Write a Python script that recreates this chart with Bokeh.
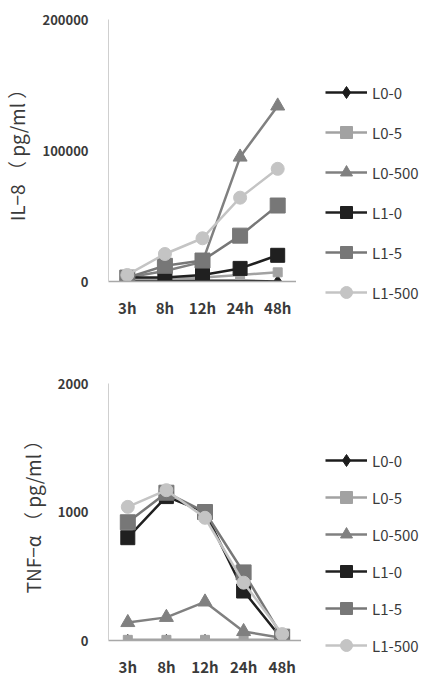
from bokeh.plotting import figure
from bokeh.layouts import column, row
from bokeh.models import FactorRange, Range1d, FixedTicker, BasicTickFormatter, Legend, LegendItem
from bokeh.embed import file_html
from bokeh.resources import INLINE

times = ["3h", "8h", "12h", "24h", "48h"]
series_names = ["L0-0", "L0-5", "L0-500", "L1-0", "L1-5", "L1-500"]

il8 = {
    "L0-0":   [1000, 500, 500, 500, 0],
    "L0-5":   [2000, 2000, 3000, 5000, 7000],
    "L0-500": [3000, 8000, 15000, 95000, 134000],
    "L1-0":   [3000, 3000, 5000, 10000, 20000],
    "L1-5":   [3000, 12000, 16000, 35000, 58000],
    "L1-500": [5000, 21000, 33000, 64000, 86000],
}
tnf = {
    "L0-0":   [0, 0, 0, 0, 0],
    "L0-5":   [5, 5, 5, 5, 5],
    "L0-500": [140, 180, 300, 70, 20],
    "L1-0":   [800, 1120, 1000, 385, 10],
    "L1-5":   [920, 1150, 1000, 530, 30],
    "L1-500": [1040, 1170, 955, 450, 50],
}
il8_ticks = [0, 100000, 200000]
tnf_ticks = [0, 1000, 2000]

styles = {
    "L0-0":   dict(color="#1c1c1c", marker="diamond", size=12),
    "L0-5":   dict(color="#a2a2a2", marker="square", size=9),
    "L0-500": dict(color="#808080", marker="triangle", size=14),
    "L1-0":   dict(color="#202020", marker="square", size=14),
    "L1-5":   dict(color="#777777", marker="square", size=15),
    "L1-500": dict(color="#c4c4c4", marker="circle", size=13),
}

FONT = "Noto Sans CJK JP"


def make(data, ticks, ymax, label, height, top, bottom, left, fw):
    p = figure(x_range=FactorRange(*times), y_range=Range1d(0, ymax),
               width=left + fw, height=height, output_backend="svg", toolbar_location=None,
               min_border_left=left, min_border_right=0,
               min_border_top=top, min_border_bottom=bottom)
    p.outline_line_color = None
    p.xgrid.visible = False
    p.ygrid.visible = False
    for name in series_names:
        st = styles[name]
        p.line(times, data[name], line_color=st["color"], line_width=2.5)
        p.scatter(times, data[name], marker=st["marker"], size=st["size"],
                  fill_color=st["color"], line_color=st["color"])
    ya = p.yaxis[0]
    ya.ticker = FixedTicker(ticks=ticks)
    ya.formatter = BasicTickFormatter(use_scientific=False)
    ya.axis_line_color = "#cfcfcf"
    ya.major_tick_line_color = None
    ya.minor_tick_line_color = None
    ya.major_label_text_font = FONT
    ya.major_label_text_font_style = "bold"
    ya.major_label_text_font_size = "13px"
    ya.major_label_text_color = "#3a3a3a"
    ya.major_label_standoff = 14
    ya.axis_label = label
    ya.axis_label_text_font = FONT
    ya.axis_label_text_font_style = "normal"
    ya.axis_label_text_font_size = "19px"
    ya.axis_label_text_color = "#3a3a3a"
    ya.axis_label_standoff = 9
    xa = p.xaxis[0]
    xa.axis_line_color = "#a8a8a8"
    xa.axis_line_width = 1.5
    xa.major_tick_line_color = None
    xa.minor_tick_line_color = None
    xa.major_label_text_font = FONT
    xa.major_label_text_font_style = "bold"
    xa.major_label_text_font_size = "15px"
    xa.major_label_text_color = "#3a3a3a"
    xa.major_label_standoff = 9
    return p


def make_legend(width, height, loc, spacing):
    q = figure(width=width, height=height, x_axis_type=None, y_axis_type=None,
               x_range=Range1d(0, 1), y_range=Range1d(0, 1),
               output_backend="svg", toolbar_location=None,
               min_border=0, min_border_left=0, min_border_right=0,
               min_border_top=0, min_border_bottom=0)
    q.outline_line_color = None
    items = []
    nan = [float("nan")]
    for name in series_names:
        st = styles[name]
        r1 = q.line(nan, nan, line_color=st["color"], line_width=2.5)
        r2 = q.scatter(nan, nan, marker=st["marker"], size=st["size"],
                       fill_color=st["color"], line_color=st["color"])
        items.append(LegendItem(label=name, renderers=[r1, r2]))
    leg = Legend(items=items, location=loc, glyph_width=42, glyph_height=30,
                 label_height=30, spacing=spacing, padding=0, margin=0,
                 label_standoff=5, border_line_color=None, background_fill_alpha=0,
                 label_text_font=FONT, label_text_font_size="15px",
                 label_text_color="#3a3a3a")
    q.add_layout(leg, "center")
    return q


p1 = make(il8, il8_ticks, 200000, "IL−8 （ pg/ml ）", 340, 19, 59, 106, 190)
p2 = make(tnf, tnf_ticks, 2000, "TNF−α （ pg/ml ）", 339, 43, 36, 107, 194)
l1 = make_legend(433 - 301, 340, (24, 33), 10)
l2 = make_legend(433 - 301, 339, (24, 19), 7)

layout = row(column(p1, p2, spacing=0), column(l1, l2, spacing=0), spacing=0)
open("out.html", "w").write(file_html(layout, INLINE))
